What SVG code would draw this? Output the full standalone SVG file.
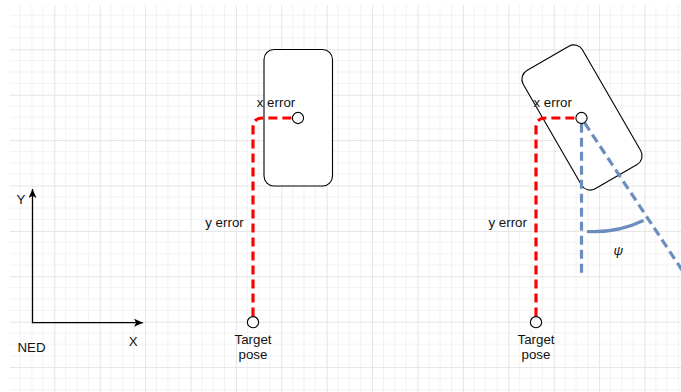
<svg xmlns="http://www.w3.org/2000/svg" width="681" height="392" viewBox="0 0 681 392">
  <style>
    .lbl { font-family: "Liberation Sans", Arial, sans-serif; font-size: 13.3px; fill: #111; }
    .mid { text-anchor: middle; }
    .body { fill: #fff; stroke: #000; stroke-width: 1.1; }
    .pt { fill: #fff; stroke: #000; stroke-width: 1.1; }
    .err { fill: none; stroke: #ff0000; stroke-width: 3.2; stroke-dasharray: 9 5; }
    .hdg { fill: none; stroke: #6c8ebf; stroke-width: 3.2; stroke-dasharray: 9 5; }
    .arc { fill: none; stroke: #6c8ebf; stroke-width: 3.2; }
    .axis { fill: none; stroke: #000; stroke-width: 1.3; }
  </style>
  <defs>
    <pattern id="grid" patternUnits="userSpaceOnUse" x="8.9" y="3.9" width="45.4" height="45.4">
      <path d="M11.35 0V45.4M22.7 0V45.4M34.05 0V45.4M0 11.35H45.4M0 22.7H45.4M0 34.05H45.4" stroke="#f2f2f2" stroke-width="1" fill="none"/>
      <path d="M0.5 0V45.4M0 0.5H45.4" stroke="#e4e4e4" stroke-width="1" fill="none"/>
    </pattern>
    <marker id="arrow" markerUnits="userSpaceOnUse" markerWidth="10" markerHeight="8" viewBox="0 0 10 8" refX="9" refY="4" orient="auto">
      <path d="M0 0L9 4L0 8L2.2 4Z" fill="#000"/>
    </marker>
  </defs>

  <!-- background grid -->
  <rect width="681" height="392" fill="#fff"/>
  <rect x="10" y="5" width="671" height="387" fill="url(#grid)"/>

  <!-- NED frame -->
  <g id="ned-frame">
    <path class="axis" d="M32.5 323.2V189" marker-end="url(#arrow)"/>
    <path class="axis" d="M31.9 322.7H143" marker-end="url(#arrow)"/>
    <text class="lbl mid" x="21" y="203.5">Y</text>
    <text class="lbl mid" x="133.3" y="345.5">X</text>
    <text class="lbl mid" x="31.5" y="352">NED</text>
  </g>

  <!-- vehicle, aligned with north -->
  <g id="vehicle-aligned">
    <rect class="body" x="264" y="49.5" width="68.5" height="136.5" rx="10"/>
  </g>

  <!-- vehicle, rotated by heading -->
  <g id="vehicle-rotated">
    <rect class="body" x="-34.25" y="-68.25" width="68.5" height="136.5" rx="10" transform="translate(582 117.5) rotate(-30)"/>
  </g>

  <!-- error and heading connectors -->
  <g id="connectors">
    <path class="err" d="M253 316.5V128Q253 118 263 118H292.5"/>
    <path class="err" d="M536 316.5V128Q536 118 546 118H575.8"/>
    <path class="hdg" d="M581.5 123.7V277.5"/>
    <path class="hdg" d="M584.6 122.9L682 270"/>
    <path class="arc" d="M587 231.5A116 116 0 0 0 643.5 220.5"/>
  </g>

  <g id="vehicle-aligned-center">
    <circle class="pt" cx="298" cy="118" r="5.6"/>
  </g>
  <g id="vehicle-rotated-center">
    <circle class="pt" cx="581.5" cy="118" r="5.6"/>
  </g>

  <g id="target-left">
    <circle class="pt" cx="253" cy="322.2" r="5.6"/>
    <text class="lbl mid" x="253" y="343.5">Target</text>
    <text class="lbl mid" x="253" y="358.5">pose</text>
  </g>
  <g id="target-right">
    <circle class="pt" cx="536" cy="322.2" r="5.6"/>
    <text class="lbl mid" x="536" y="343.5">Target</text>
    <text class="lbl mid" x="536" y="358.5">pose</text>
  </g>

  <!-- labels -->
  <g id="labels">
    <text class="lbl mid" x="276" y="107">x error</text>
    <text class="lbl mid" x="224.5" y="226.5">y error</text>
    <text class="lbl mid" x="552.7" y="107">x error</text>
    <text class="lbl mid" x="507.7" y="226.5">y error</text>
    <text class="lbl mid" x="618.3" y="254.5" font-style="italic" font-size="14px">ψ</text>
  </g>
</svg>
